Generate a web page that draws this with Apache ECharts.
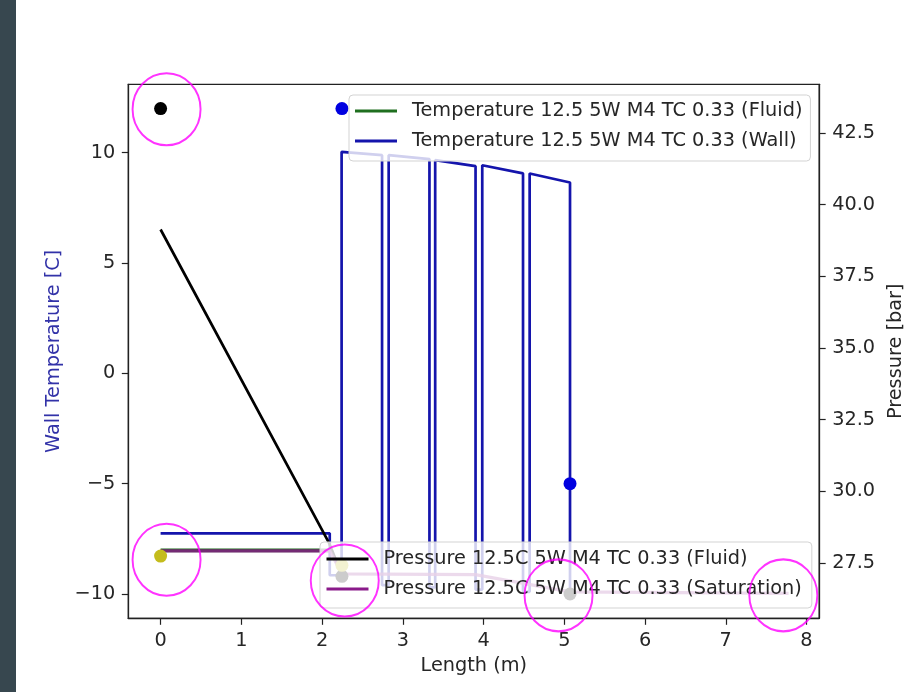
<!DOCTYPE html>
<html>
<head>
<meta charset="utf-8">
<script src="https://cdn.jsdelivr.net/npm/echarts@6/dist/echarts.min.js"></script>
<style>
html,body{margin:0;padding:0;background:#fff;}
#chart{position:absolute;left:0;top:0;width:913px;height:692px;}
#strip{position:absolute;left:0;top:0;width:16px;height:692px;background:#37474f;z-index:10;}
</style>
</head>
<body>
<div id="chart"></div>
<div id="strip"></div>
<script>
// ---- tick labels ----
const xTicks = [0, 1, 2, 3, 4, 5, 6, 7, 8];
const tempTicks = [-10, -5, 0, 5, 10];
const presTicks = [27.5, 30, 32.5, 35, 37.5, 40, 42.5];

// ---- series names ----
const nameTF = 'Temperature 12.5 5W M4 TC 0.33 (Fluid)';
const nameTW = 'Temperature 12.5 5W M4 TC 0.33 (Wall)';
const namePF = 'Pressure 12.5C 5W M4 TC 0.33 (Fluid)';
const namePS = 'Pressure 12.5C 5W M4 TC 0.33 (Saturation)';

// ---- wall temperature (left axis) ----
const wallLen  = [0, 2.095, 2.095, 2.242, 2.242, 2.743, 2.743, 2.825, 2.825, 3.330, 3.330, 3.401, 3.401, 3.901, 3.901, 3.984, 3.984, 4.489, 4.489, 4.571, 4.571, 5.071, 5.071];
const wallTemp = [-7.25, -7.25, -9.15, -9.15, 10.04, 9.89, -9.6, -9.6, 9.89, 9.71, -9.7, -9.7, 9.66, 9.39, -9.8, -9.8, 9.43, 9.06, -9.9, -9.9, 9.06, 8.65, -10.0];

// ---- fluid temperature (left axis) ----
const fluidLen  = [0, 2.095];
const fluidTemp = [-8.02, -8.02];

// ---- fluid pressure (right axis) ----
const pFluidLen = [0, 2.086, 2.246];
const pFluidVal = [39.13, 28.21, 27.09];

// ---- saturation pressure (right axis) ----
const pSatLen = [0, 2.095, 2.246, 3.9, 5.071, 7.778];
const pSatVal = [27.93, 27.93, 27.13, 27.1, 26.5, 26.45];

// ---- marker dots (left axis) ----
const blackDotLen  = [0, 2.246, 5.071];
const blackDotTemp = [12, -9.2, -10];
const blueDotLen   = [2.246, 5.071];
const blueDotTemp  = [12, -5];
const yellowDotLen  = [0, 2.246];
const yellowDotTemp = [-8.28, -8.7];

// ---- annotation circles (left axis) ----
const circLen  = [0.074, 0.074, 2.281, 4.929, 7.713];
const circTemp = [11.97, -8.45, -9.39, -10.06, -10.06];

const zip = (a, b) => a.map((v, i) => [v, b[i]]);
const FONT = 'DejaVu Sans';
const TXT = '#262626';
const FS = 19.3;

const chart = echarts.init(document.getElementById('chart'), null, {renderer: 'canvas'});

const axisLineStyle = {color: '#222', width: 1.3};

const legendCommon = {
  orient: 'vertical',
  icon: 'rect',
  itemWidth: 42,
  itemHeight: 2.8,
  itemGap: 8,
  selectedMode: false,
  backgroundColor: 'rgba(255,255,255,0.8)',
  borderColor: '#d3d3d3',
  borderWidth: 1,
  borderRadius: 4,
  textStyle: {fontFamily: FONT, fontSize: FS, color: TXT, lineHeight: 22, padding: [0, 0, 0, 10]}
};

function lineSeries(name, data, color, yIdx, width, opacity) {
  return {
    type: 'line', name: name, data: data, yAxisIndex: yIdx,
    symbol: 'none', showSymbol: false,
    lineStyle: {color: color, width: width, opacity: opacity},
    itemStyle: {color: color},
    animation: false, silent: true
  };
}
function dotSeries(name, data, color) {
  return {
    type: 'scatter', name: name, data: data, yAxisIndex: 0,
    symbol: 'circle', symbolSize: 13,
    itemStyle: {color: color, opacity: 1},
    animation: false, silent: true, z: 3
  };
}

const option = {
  backgroundColor: '#ffffff',
  animation: false,
  grid: {left: 128.3, right: 90.3, top: 84.3, bottom: 73.7, show: true, borderColor: '#222', borderWidth: 1.3, backgroundColor: '#fff'},
  legend: [
    Object.assign({}, legendCommon, {left: 349, top: 95, padding: [5, 8, 9, 6], data: [nameTF, nameTW]}),
    Object.assign({}, legendCommon, {left: 320, top: 542, padding: [6, 10, 8, 6.5], data: [namePF, namePS]})
  ],
  xAxis: {
    type: 'value', min: -0.4, max: 8.157,
    name: 'Length (m)', nameLocation: 'middle', nameGap: 38,
    nameTextStyle: {fontFamily: FONT, fontSize: FS, color: TXT},
    axisLine: {show: true, onZero: false, lineStyle: axisLineStyle},
    axisTick: {show: true, customValues: xTicks, length: 6.5, lineStyle: {color: '#222', width: 1.2}},
    axisLabel: {customValues: xTicks, margin: 13, fontFamily: FONT, fontSize: FS, color: TXT},
    splitLine: {show: false}
  },
  yAxis: [
    {
      type: 'value', position: 'left', min: -11.1, max: 13.1,
      name: 'Wall Temperature [C]', nameLocation: 'middle', nameGap: 63, nameRotate: 90,
      nameTextStyle: {fontFamily: FONT, fontSize: FS, color: '#3232a8'},
      axisLine: {show: true, onZero: false, lineStyle: axisLineStyle},
      axisTick: {show: true, customValues: tempTicks, length: 6.5, lineStyle: {color: '#222', width: 1.2}},
      axisLabel: {customValues: tempTicks, margin: 13, fontFamily: FONT, fontSize: FS, color: TXT,
        formatter: v => (v < 0 ? '\u2212' + Math.abs(v) : String(v))},
      splitLine: {show: false}
    },
    {
      type: 'value', position: 'right', min: 25.58, max: 44.19,
      name: 'Pressure [bar]', nameLocation: 'middle', nameGap: 61, nameRotate: 90,
      nameTextStyle: {fontFamily: FONT, fontSize: FS, color: TXT},
      axisLine: {show: true, onZero: false, lineStyle: axisLineStyle},
      axisTick: {show: true, customValues: presTicks, length: 6.5, lineStyle: {color: '#222', width: 1.2}},
      axisLabel: {customValues: presTicks, margin: 13, fontFamily: FONT, fontSize: FS, color: TXT,
        formatter: v => Number(v).toFixed(1)},
      splitLine: {show: false}
    }
  ],
  series: [
    lineSeries(nameTF, zip(fluidLen, fluidTemp), '#1f6f1f', 0, 3.6, 1),
    lineSeries(nameTW, zip(wallLen, wallTemp), '#1414ac', 0, 2.7, 1),
    lineSeries(namePF, zip(pFluidLen, pFluidVal), '#000000', 1, 2.7, 1),
    lineSeries(namePS, zip(pSatLen, pSatVal), '#8a1a8a', 1, 3.2, 0.8),
    dotSeries('dots black', zip(blackDotLen, blackDotTemp), '#000000'),
    dotSeries('dots blue', zip(blueDotLen, blueDotTemp), '#0000e0'),
    dotSeries('dots yellow', zip(yellowDotLen, yellowDotTemp), '#c4bc1c'),
    {
      type: 'scatter', name: 'circles', data: zip(circLen, circTemp), yAxisIndex: 0,
      symbol: 'circle', symbolSize: [68, 72],
      itemStyle: {color: 'rgba(0,0,0,0)', borderColor: '#ff00ff', borderWidth: 2},
      clip: false, silent: true, animation: false, z: 20
    }
  ]
};
chart.setOption(option);
</script>
</body>
</html>
